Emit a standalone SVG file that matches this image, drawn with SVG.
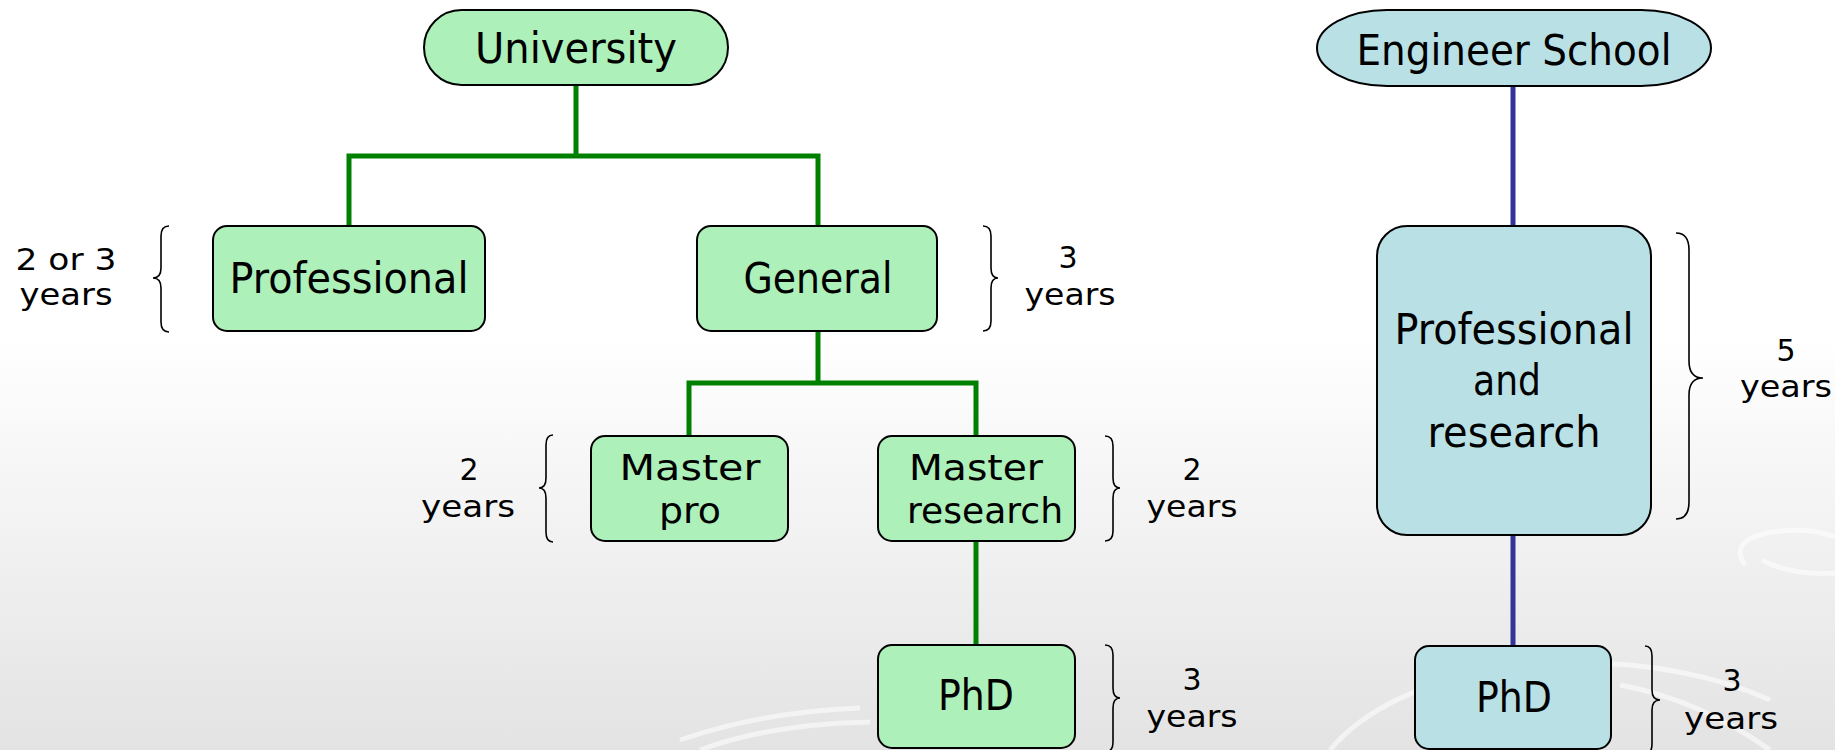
<svg xmlns="http://www.w3.org/2000/svg" width="1835" height="750" viewBox="0 0 1835 750">
<defs>
<linearGradient id="bg" x1="0" y1="0" x2="0" y2="1">
<stop offset="0" stop-color="#ffffff"/>
<stop offset="0.45" stop-color="#ffffff"/>
<stop offset="1" stop-color="#e3e3e3"/>
</linearGradient>
<style>
.g{fill:#adf0b9;stroke:#000;stroke-width:2}
.b{fill:#b9e0e4;stroke:#000;stroke-width:2}
.cg{fill:none;stroke:#008000;stroke-width:5}
.cb{fill:none;stroke:#333399;stroke-width:5}
.br{fill:none;stroke:#000;stroke-width:1.6}
.t{font-family:"DejaVu Sans",sans-serif;font-size:42px;fill:#000;text-anchor:middle}
.t2{font-family:"DejaVu Sans",sans-serif;font-size:36px;fill:#000;text-anchor:middle}
.y{font-family:"DejaVu Sans",sans-serif;font-size:30px;fill:#000;text-anchor:middle}
.sw{fill:none;stroke:#ffffff;stroke-opacity:0.55;stroke-width:5}
</style>
</defs>
<rect x="0" y="0" width="1835" height="750" fill="url(#bg)"/>
<g id="background-swirls">
<path class="sw" d="M680,740 Q760,712 860,708"/>
<path class="sw" d="M700,750 Q770,724 870,722"/>
<path class="sw" d="M1330,750 Q1380,690 1500,668"/>
<path class="sw" d="M1560,663 Q1680,660 1770,700"/>
<path class="sw" d="M1620,685 Q1700,700 1770,750"/>
<path class="sw" d="M1745,565 Q1728,540 1772,532 Q1810,527 1835,537"/>
<path class="sw" d="M1762,560 Q1792,576 1835,573"/>
</g>
<g id="connectors">
<path class="cg" d="M576,85 V156 M349,226 V156 H818 V226"/>
<path class="cg" d="M818,331 V383 M689,436 V383 H976 V436"/>
<path class="cg" d="M976,541 V645"/>
<path class="cb" d="M1513,86 V226"/>
<path class="cb" d="M1513,535 V646"/>
</g>
<g id="university">
<rect class="g" x="424" y="10" width="304" height="75" rx="37.5"/>
<text class="t" x="576" y="63" textLength="202" lengthAdjust="spacingAndGlyphs">University</text>
</g>
<g id="professional">
<rect class="g" x="213" y="226" width="272" height="105" rx="14"/>
<text class="t" x="349" y="293" textLength="239" lengthAdjust="spacingAndGlyphs">Professional</text>
</g>
<g id="general">
<rect class="g" x="697" y="226" width="240" height="105" rx="14"/>
<text class="t" x="818" y="293" textLength="149" lengthAdjust="spacingAndGlyphs">General</text>
</g>
<g id="master-pro">
<rect class="g" x="591" y="436" width="197" height="105" rx="14"/>
<text class="t2" x="690" y="480" textLength="141" lengthAdjust="spacingAndGlyphs">Master</text>
<text class="t2" x="690" y="523" textLength="62" lengthAdjust="spacingAndGlyphs">pro</text>
</g>
<g id="master-research">
<rect class="g" x="878" y="436" width="197" height="105" rx="14"/>
<text class="t2" x="976" y="480" textLength="134" lengthAdjust="spacingAndGlyphs">Master</text>
<text class="t2" x="985" y="523" textLength="156" lengthAdjust="spacingAndGlyphs">research</text>
</g>
<g id="phd-university">
<rect class="g" x="878" y="645" width="197" height="103" rx="14"/>
<text class="t" x="976" y="710" textLength="76" lengthAdjust="spacingAndGlyphs">PhD</text>
</g>
<g id="engineer-school">
<rect class="b" x="1317" y="10" width="394" height="76" rx="70" ry="38"/>
<text class="t" x="1514" y="65" textLength="315" lengthAdjust="spacingAndGlyphs">Engineer School</text>
</g>
<g id="professional-research">
<rect class="b" x="1377" y="226" width="274" height="309" rx="30"/>
<text class="t" x="1514" y="344" textLength="239" lengthAdjust="spacingAndGlyphs">Professional</text>
<text class="t" x="1507" y="395" textLength="68" lengthAdjust="spacingAndGlyphs">and</text>
<text class="t" x="1514" y="447" textLength="173" lengthAdjust="spacingAndGlyphs">research</text>
</g>
<g id="phd-engineer">
<rect class="b" x="1415" y="646" width="196" height="103" rx="14"/>
<text class="t" x="1514" y="712" textLength="76" lengthAdjust="spacingAndGlyphs">PhD</text>
</g>
<g id="durations">
<path class="br" d="M169,226 Q161,226 161,236 L161,268 Q161,278 153,278 Q161,278 161,288 L161,322 Q161,332 169,332"/>
<text class="y" x="66" y="270" textLength="101" lengthAdjust="spacingAndGlyphs">2 or 3</text>
<text class="y" x="66" y="305" textLength="93" lengthAdjust="spacingAndGlyphs">years</text>
<path class="br" d="M983,226 Q991,226 991,236 L991,268 Q991,278 998,278 Q991,278 991,288 L991,321 Q991,331 983,331"/>
<text class="y" x="1068" y="268">3</text>
<text class="y" x="1070" y="305" textLength="91" lengthAdjust="spacingAndGlyphs">years</text>
<path class="br" d="M553,435 Q546,435 546,445 L546,478 Q546,488 539,488 Q546,488 546,498 L546,532 Q546,542 553,542"/>
<text class="y" x="469" y="480">2</text>
<text class="y" x="468" y="517" textLength="94" lengthAdjust="spacingAndGlyphs">years</text>
<path class="br" d="M1105,436 Q1113,436 1113,446 L1113,478 Q1113,488 1120,488 Q1113,488 1113,498 L1113,531 Q1113,541 1105,541"/>
<text class="y" x="1192" y="480">2</text>
<text class="y" x="1192" y="517" textLength="91" lengthAdjust="spacingAndGlyphs">years</text>
<path class="br" d="M1105,645 Q1113,645 1113,655 L1113,688 Q1113,698 1120,698 Q1113,698 1113,708 L1113,742 Q1113,752 1105,752"/>
<text class="y" x="1192" y="690">3</text>
<text class="y" x="1192" y="727" textLength="91" lengthAdjust="spacingAndGlyphs">years</text>
<path class="br" d="M1676,233 Q1689,233 1689,250 L1689,361 Q1689,378 1703,378 Q1689,378 1689,395 L1689,502 Q1689,519 1676,519"/>
<text class="y" x="1786" y="361">5</text>
<text class="y" x="1786" y="397" textLength="92" lengthAdjust="spacingAndGlyphs">years</text>
<path class="br" d="M1645,646 Q1652,646 1652,656 L1652,690 Q1652,700 1660,700 Q1652,700 1652,710 L1652,744 Q1652,754 1645,754"/>
<text class="y" x="1732" y="691">3</text>
<text class="y" x="1731" y="729" textLength="94" lengthAdjust="spacingAndGlyphs">years</text>
</g>
</svg>
